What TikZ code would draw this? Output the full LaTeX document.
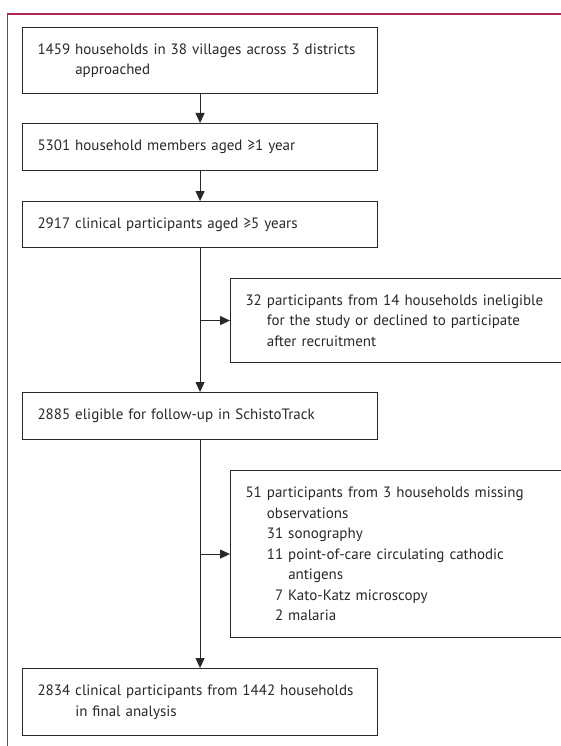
\documentclass[tikz,border=0pt]{standalone}
\usepackage{fontspec}
\setmainfont{PT Sans}
\usetikzlibrary{arrows.meta}
\definecolor{framered}{RGB}{178,34,84}
\definecolor{boxline}{RGB}{40,40,40}
\tikzset{
  flowbox/.style={draw=boxline, line width=1.1pt, rectangle, anchor=north west,
    align=left, inner xsep=15pt, inner ysep=4pt, text width=325pt,
    text=boxline, font=\fontsize{15}{20.5}\selectfont},
  sidebox/.style={flowbox, text width=330pt},
  flowarrow/.style={-{Triangle[length=10pt,width=9pt]}, line width=1.1pt, draw=boxline}
}

\begin{document}
\begin{tikzpicture}[x=1pt,y=-1pt]
    \useasboundingbox (0,0) rectangle (561,746);
    \clip (0,0) rectangle (561,746);
    % page frame
    \draw[framered, line width=1.2pt] (7,14) -- (561,14);
    \draw[framered, line width=0.8pt] (7,14) -- (7,746);
    % main column
    \node[flowbox, minimum height=66pt] (approached) at (22,27)
        {1459 households in 38 villages across 3 districts\\
         \phantom{1459}\ approached};
    \node[flowbox, minimum height=47pt] (members) at (22,123)
        {5301 household members aged ≥1 year};
    \node[flowbox, minimum height=46pt] (clinical) at (22,201)
        {2917 clinical participants aged ≥5 years};
    \node[flowbox, minimum height=47pt] (eligible) at (22,392)
        {2885 eligible for follow-up in SchistoTrack};
    \node[flowbox, minimum height=67pt] (final) at (22,668)
        {2834 clinical participants from 1442 households\\
         \phantom{2834}\ in final analysis};
    % exclusions
    \node[sidebox, minimum height=84pt] (declined) at (230,278)
        {32 participants from 14 households ineligible\\
         \phantom{32}\ for the study or declined to participate\\
         \phantom{32}\ after recruitment};
    \node[sidebox, minimum height=167pt] (missing) at (230,470)
        {51 participants from 3 households missing\\
         \phantom{51}\ observations\\
         \phantom{51}\ 31 sonography\\
         \phantom{51}\ 11 point-of-care circulating cathodic\\
         \phantom{51}\ \phantom{11}\ antigens\\
         \phantom{51}\ \phantom{1}7 Kato-Katz microscopy\\
         \phantom{51}\ \phantom{1}2 malaria};
    % arrows
    \draw[flowarrow] (approached) -- (members);
    \draw[flowarrow] (members) -- (clinical);
    \draw[flowarrow] (clinical) -- (eligible);
    \draw[flowarrow] (eligible) -- (final);
    \draw[flowarrow] (clinical.south |- declined.west) -- (declined.west);
    \draw[flowarrow] (eligible.south |- missing.west) -- (missing.west);
\end{tikzpicture}
\end{document}
